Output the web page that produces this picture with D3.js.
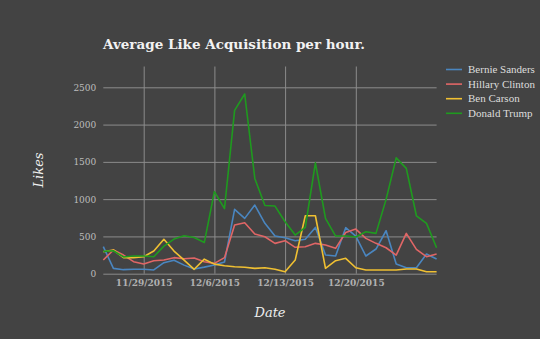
<!DOCTYPE html>
<html>
<head>
<meta charset="utf-8">
<script src="https://cdn.jsdelivr.net/npm/d3@7"></script>
<style>
  html, body { margin: 0; padding: 0; background: #434343; }
  svg { display: block; }
</style>
</head>
<body>
<svg id="chart" width="540" height="339"></svg>
<script>
const dates = ["2015-11-25","2015-11-26","2015-11-27","2015-11-28","2015-11-29","2015-11-30","2015-12-01","2015-12-02","2015-12-03","2015-12-04","2015-12-05","2015-12-06","2015-12-07","2015-12-08","2015-12-09","2015-12-10","2015-12-11","2015-12-12","2015-12-13","2015-12-14","2015-12-15","2015-12-16","2015-12-17","2015-12-18","2015-12-19","2015-12-20","2015-12-21","2015-12-22","2015-12-23","2015-12-24","2015-12-25","2015-12-26","2015-12-27","2015-12-28"];
const bernie  = [362, 72, 54, 59, 59, 50, 148, 180, 115, 63, 88, 117, 157, 863, 742, 920, 675, 505, 483, 443, 461, 621, 250, 237, 617, 505, 237, 331, 576, 130, 80, 80, 264, 197];
const hillary = [183, 318, 250, 161, 130, 174, 183, 215, 200, 210, 161, 139, 215, 653, 684, 532, 495, 407, 443, 354, 362, 407, 385, 340, 552, 599, 474, 407, 348, 250, 541, 327, 228, 264];
const carson  = [295, 318, 215, 215, 228, 304, 461, 304, 183, 59, 195, 128, 107, 94, 86, 72, 80, 59, 27, 183, 777, 777, 72, 174, 206, 80, 50, 50, 50, 50, 63, 63, 27, 27];
const trump   = [300, 308, 225, 237, 237, 228, 370, 465, 510, 485, 418, 1100, 873, 2190, 2410, 1278, 915, 907, 697, 518, 621, 1487, 742, 505, 505, 492, 563, 541, 997, 1554, 1412, 777, 675, 348];
const seriesNames = ["Bernie Sanders", "Hillary Clinton", "Ben Carson", "Donald Trump"];
const seriesColors = ["#4a86c0", "#e06666", "#f0c032", "#1f9a1f"];
const yTicks = [0, 500, 1000, 1500, 2000, 2500];
const xTickDates = ["2015-11-29", "2015-12-06", "2015-12-13", "2015-12-20"];
const xTickLabels = ["11/29/2015", "12/6/2015", "12/13/2015", "12/20/2015"];

const parse = d3.timeParse("%Y-%m-%d");
const allSeries = [bernie, hillary, carson, trump];

const svg = d3.select("#chart");
const serif = "Georgia, 'DejaVu Serif', 'Liberation Serif', serif";
const serifNarrow = "Georgia, 'Liberation Serif', serif";

const plotL = 103.3, plotR = 436.6, plotT = 66.5, plotB = 273.7;
const x = d3.scaleTime().domain([parse(dates[0]), parse(dates[dates.length - 1])]).range([plotL, plotR]);
const y = d3.scaleLinear().domain([0, 2500]).range([plotB, 87.3]);

// horizontal grid + y labels
const gy = svg.append("g").attr("transform", `translate(${plotL},0)`)
  .call(d3.axisLeft(y).tickValues(yTicks).tickSize(-(plotR - plotL)).tickPadding(7).tickFormat(d => d));
gy.select(".domain").remove();
gy.selectAll(".tick line").attr("stroke", "#8c8c8c").attr("stroke-width", 1);
gy.selectAll(".tick text").attr("fill", "#bdbdbd").style("font-family", serif).style("font-size", "9px");

// vertical grid + x labels
const gx = svg.append("g").attr("transform", `translate(0,${plotB})`)
  .call(d3.axisBottom(x).tickValues(xTickDates.map(parse)).tickSize(-(plotB - plotT)).tickPadding(6)
    .tickFormat((d, i) => xTickLabels[i]));
gx.select(".domain").remove();
gx.selectAll(".tick line").attr("stroke", "#8c8c8c").attr("stroke-width", 1);
gx.selectAll(".tick text").attr("fill", "#b0b0b0").style("font-family", serif).style("font-size", "9px").style("font-weight", "bold");

// lines
const line = d3.line().x((d, i) => x(parse(dates[i]))).y(d => y(d));
allSeries.forEach((s, k) => {
  svg.append("path").datum(s).attr("d", line).attr("fill", "none")
    .attr("stroke", seriesColors[k]).attr("stroke-width", 1.6).attr("stroke-linejoin", "round");
});

// title
const title = svg.append("text").attr("x", 103).attr("y", 49)
  .attr("fill", "#f2f2f2").style("font-family", serif).style("font-weight", "bold").style("font-size", "16px")
  .text("Average Like Acquisition per hour.");
const tw = title.node().getComputedTextLength();
title.style("font-size", (16 * 262 / tw).toFixed(2) + "px");

// axis titles
svg.append("text").attr("transform", "translate(43,170) rotate(-90)").attr("text-anchor", "middle")
  .attr("fill", "#eeeeee").style("font-family", serif).style("font-style", "italic").style("font-size", "13px")
  .text("Likes");
svg.append("text").attr("x", 270).attr("y", 317).attr("text-anchor", "middle")
  .attr("fill", "#eeeeee").style("font-family", serif).style("font-style", "italic").style("font-size", "13px")
  .text("Date");

// legend
const lg = svg.append("g");
seriesNames.forEach((n, k) => {
  const yy = 69.5 + k * 14.6;
  lg.append("line").attr("x1", 446).attr("x2", 462).attr("y1", yy).attr("y2", yy)
    .attr("stroke", seriesColors[k]).attr("stroke-width", 1.6);
  lg.append("text").attr("x", 468).attr("y", yy + 3.5).attr("fill", "#dddddd")
    .style("font-family", serifNarrow).style("font-size", "11px").text(n);
});
</script>
</body>
</html>
